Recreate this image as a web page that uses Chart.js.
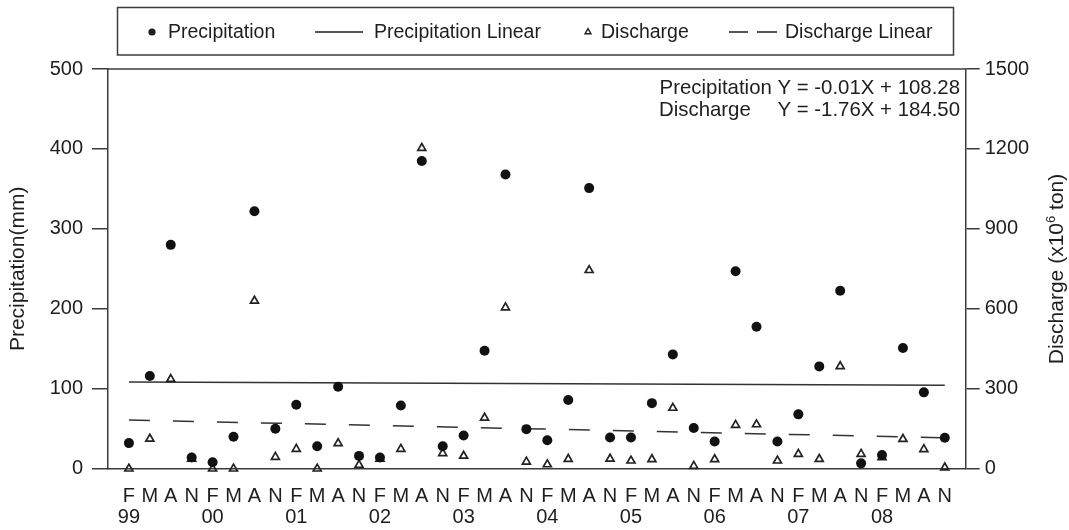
<!DOCTYPE html>
<html><head><meta charset="utf-8">
<script src="https://cdn.jsdelivr.net/npm/chart.js@4/dist/chart.umd.min.js"></script>
<style>html,body{margin:0;padding:0;background:#fff;}#wrap{width:1069px;height:530px;position:relative;}</style>
</head><body><div id="wrap"><canvas id="c"></canvas></div>
<script>
// ---- data ----
const months = ['F','M','A','N'];
const years = ['99','00','01','02','03','04','05','06','07','08'];
const precipitation = [32,116,280,14, 8,40,322,50, 80,28,102.5,16, 14,79,385,28, 41.5,147.5,368,49.5,
  35.5,86,351,39, 39,82,143,51, 34,247,177.5,34, 68,128,222.5,6.7, 17,151,95.5,38.8];
const discharge = [0,112,336,37, 0,0,630,44, 74,0,95,14, 37,74,1203,58, 48,191,605,26,
  16,36,745,37, 30,35,228,10, 35,164,166,30, 55,36,384,55, 43,111,73,4];
const precipTrend = [108.3, 104.3];     // fitted line at first and last sample
const dischargeTrend = [182.6, 116.0];
const leftTicks = [0,100,200,300,400,500];
const rightTicks = [0,300,600,900,1200,1500];
const seriesNames = ['Precipitation','Precipitation Linear','Discharge','Discharge Linear'];
const eqPrecip = 'Y = -0.01X + 108.28';
const eqDischarge = 'Y = -1.76X + 184.50';
const leftTitle = 'Precipitation(mm)';

const FONT = "'Liberation Sans', Arial, Helvetica, sans-serif";
const INK = '#1e1e1e';
const AXIS = '#3c3c3c';
const lastIdx = precipitation.length - 1;

const pts = arr => arr.map((v,i)=>({x:i,y:v}));
const trend = arr => [{x:0,y:arr[0]},{x:lastIdx,y:arr[1]}];

const decor = {
  id:'decor',
  afterDraw(chart){
    const ctx = chart.ctx, a = chart.chartArea;
    ctx.save();
    ctx.strokeStyle = AXIS; ctx.lineWidth = 1.5;
    ctx.beginPath(); ctx.moveTo(a.left, a.top); ctx.lineTo(a.right, a.top); ctx.stroke();
    // legend
    ctx.strokeRect(117.5, 7.5, 836, 47.5);
    ctx.fillStyle = INK; ctx.strokeStyle = INK;
    ctx.font = '19.5px ' + FONT; ctx.textBaseline = 'alphabetic'; ctx.textAlign = 'left';
    const ly = 32, tb = 37.8;
    ctx.beginPath(); ctx.arc(152, ly, 3.6, 0, Math.PI*2); ctx.fill();
    ctx.fillText(seriesNames[0], 168, tb);
    ctx.lineWidth = 1.3;
    ctx.beginPath(); ctx.moveTo(315, ly); ctx.lineTo(363, ly); ctx.stroke();
    ctx.fillText(seriesNames[1], 374, tb);
    const r = 3.4;
    ctx.lineWidth = 1.4;
    ctx.beginPath();
    ctx.moveTo(588, ly - r); ctx.lineTo(588 + r*0.866, ly + r*0.5); ctx.lineTo(588 - r*0.866, ly + r*0.5); ctx.closePath();
    ctx.stroke();
    ctx.fillText(seriesNames[2], 601, tb);
    ctx.lineWidth = 1.3;
    ctx.beginPath(); ctx.moveTo(729, ly); ctx.lineTo(748, ly); ctx.moveTo(757, ly); ctx.lineTo(777, ly); ctx.stroke();
    ctx.fillText(seriesNames[3], 785, tb);
    // equations
    ctx.font = '20.4px ' + FONT;
    ctx.textAlign = 'right';
    ctx.fillText(seriesNames[0] + ' ' + eqPrecip, 960, 94);
    ctx.fillText(eqDischarge, 960, 116);
    ctx.textAlign = 'left';
    ctx.fillText(seriesNames[2], 659, 116);
    // right axis title, reading upward
    ctx.translate(1055, 269);
    ctx.rotate(-Math.PI/2);
    const big = '21px ' + FONT, small = '13px ' + FONT;
    const p1 = 'Discharge (x10', p2 = '6', p3 = ' ton)';
    ctx.font = big; const w1 = ctx.measureText(p1).width, w3 = ctx.measureText(p3).width;
    ctx.font = small; const w2 = ctx.measureText(p2).width;
    let x = -(w1 + w2 + w3)/2;
    const base = 7.5;
    ctx.font = big; ctx.fillText(p1, x, base); x += w1;
    ctx.font = small; ctx.fillText(p2, x, base - 8); x += w2;
    ctx.font = big; ctx.fillText(p3, x, base);
    ctx.restore();
  }
};

new Chart(document.getElementById('c'), {
  type: 'scatter',
  data: {
    datasets: [
      { label: seriesNames[0], data: pts(precipitation), yAxisID: 'y',
        pointStyle: 'circle', pointRadius: 5, pointHoverRadius: 5,
        backgroundColor: '#111', borderWidth: 0, clip: false },
      { label: seriesNames[2], data: pts(discharge), yAxisID: 'y1',
        pointStyle: 'triangle', pointRadius: 4.6, pointHoverRadius: 4.6,
        backgroundColor: 'rgba(255,255,255,0)', borderColor: '#222', borderWidth: 1.7, clip: false },
      { type: 'line', label: seriesNames[1], data: trend(precipTrend), yAxisID: 'y',
        borderColor: '#333', borderWidth: 1.5, pointRadius: 0, fill: false },
      { type: 'line', label: seriesNames[3], data: trend(dischargeTrend), yAxisID: 'y1',
        borderColor: '#333', borderWidth: 1.5, borderDash: [21, 23], pointRadius: 0, fill: false }
    ]
  },
  options: {
    responsive: true, maintainAspectRatio: false, animation: false,
    events: [],
    layout: { padding: { top: 69, left: 0, right: 0, bottom: 0 } },
    plugins: { legend: { display: false }, tooltip: { enabled: false } },
    scales: {
      x: {
        type: 'linear', min: -1, max: 40,
        afterBuildTicks: s => { s.ticks = precipitation.map((_, i) => ({ value: i })); },
        afterFit: s => { s.height = 61.3; },
        grid: { display: false, drawTicks: false },
        border: { display: true, color: AXIS, width: 1.5 },
        ticks: {
          autoSkip: false, maxRotation: 0, minRotation: 0, padding: 17.5,
          color: INK, font: { family: FONT, size: 20, lineHeight: 1.05 },
          callback: v => (v % 4 === 0) ? [months[0], years[v/4]] : months[v % 4]
        }
      },
      y: {
        position: 'left', min: 0, max: 500,
        afterBuildTicks: s => { s.ticks = leftTicks.map(v => ({ value: v })); },
        afterFit: s => { s.width = 108; },
        grid: { drawOnChartArea: false, drawTicks: true, tickLength: 16, color: AXIS, lineWidth: 1.5 },
        border: { display: true, color: AXIS, width: 1.5 },
        ticks: { padding: 9, color: INK, font: { family: FONT, size: 20 }, callback: v => String(v) },
        title: { display: true, text: leftTitle, color: INK, font: { family: FONT, size: 21 }, padding: { top: 6, bottom: 0 } }
      },
      y1: {
        position: 'right', min: 0, max: 1500,
        afterBuildTicks: s => { s.ticks = rightTicks.map(v => ({ value: v })); },
        afterFit: s => { s.width = 1069 - 965.7; },
        grid: { drawOnChartArea: false, drawTicks: true, tickLength: 14, color: AXIS, lineWidth: 1.5 },
        border: { display: true, color: AXIS, width: 1.5 },
        ticks: { padding: 5, color: INK, font: { family: FONT, size: 20 }, callback: v => String(v) }
      }
    }
  },
  plugins: [decor]
});
</script>
</body></html>
